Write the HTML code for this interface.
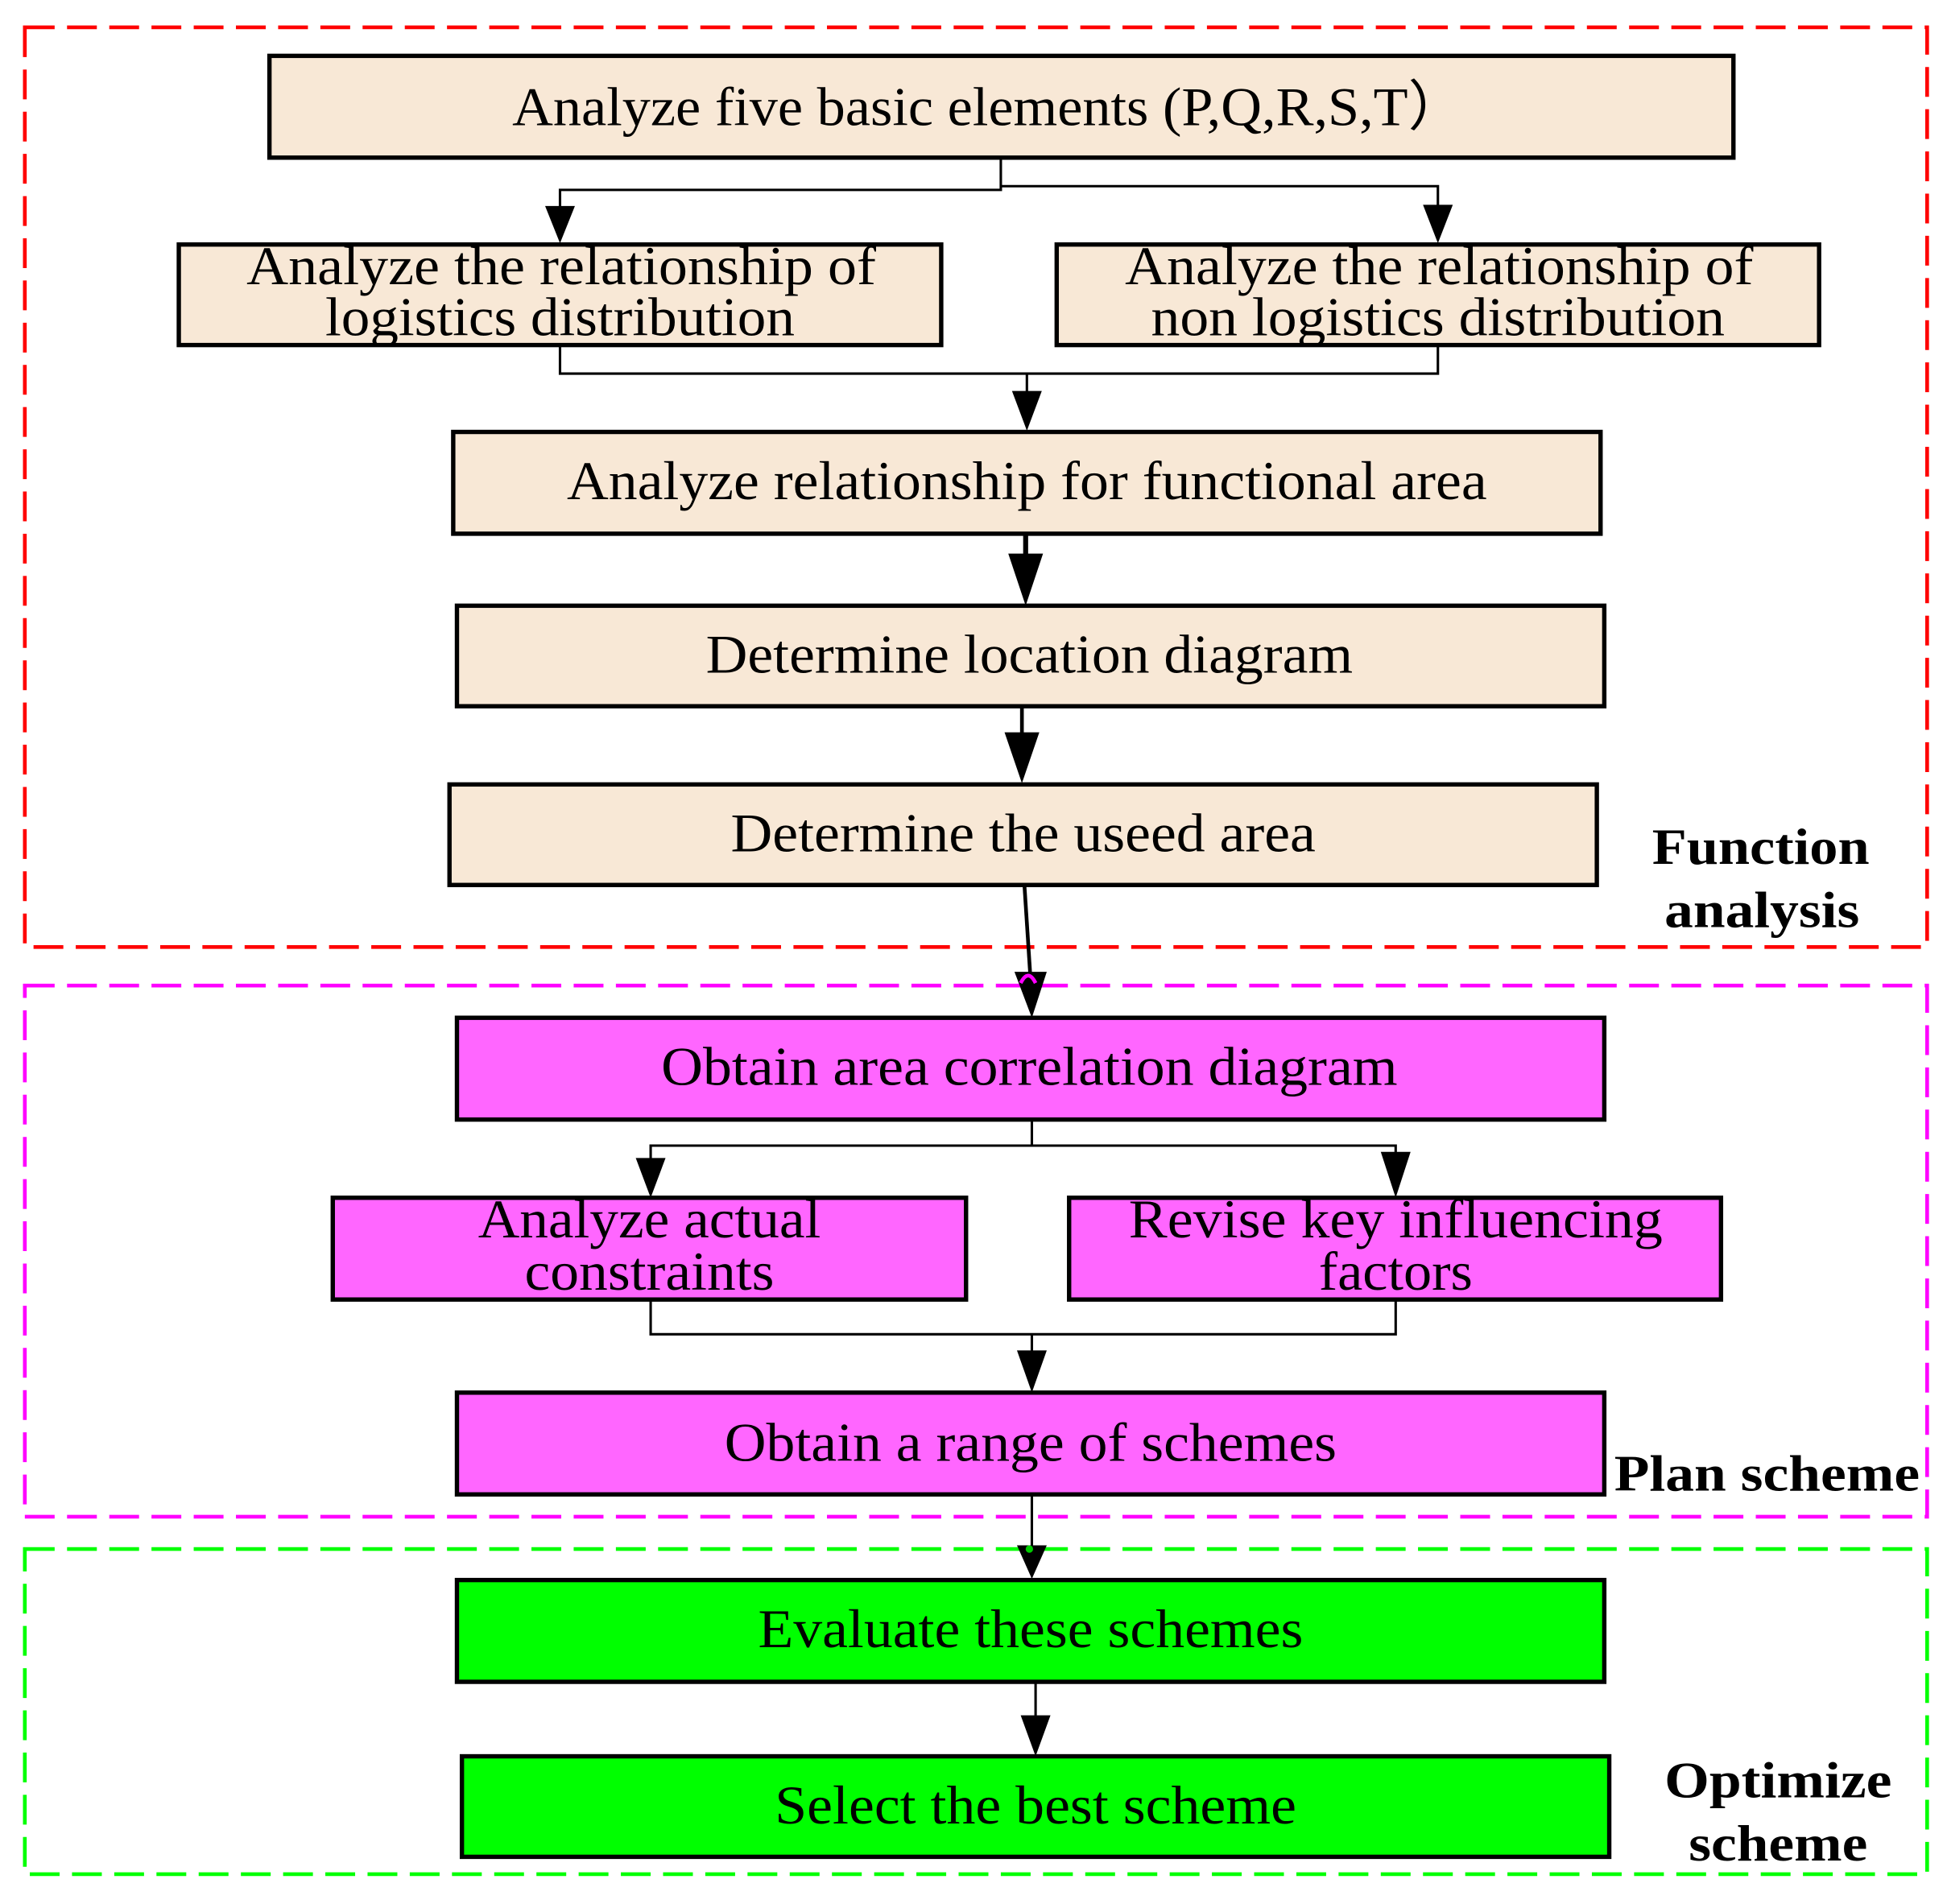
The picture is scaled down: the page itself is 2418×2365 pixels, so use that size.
<!DOCTYPE html>
<html><head><meta charset="utf-8"><style>
html,body{margin:0;padding:0;background:#fff}
svg{display:block}
text{font-family:"Liberation Serif",serif;font-size:44px;fill:#000;text-anchor:middle}
.b{font-weight:bold;font-size:41px}
</style></head><body>
<svg width="2418" height="2365" viewBox="0 0 1568 1534" preserveAspectRatio="none" xmlns="http://www.w3.org/2000/svg">
<!-- dashed groups -->
<rect x="20" y="22" width="1532" height="741" fill="none" stroke="#FF0000" stroke-width="3" stroke-dasharray="24,10"/>
<rect x="20" y="794" width="1532" height="428" fill="none" stroke="#FF00FF" stroke-width="3" stroke-dasharray="24,10"/>
<rect x="20" y="1248" width="1532" height="262" fill="none" stroke="#00FF00" stroke-width="3" stroke-dasharray="24,10"/>

<g fill="#000" stroke="none">
<path d="M439,166 L463,166 L451,196 Z"/>
<path d="M1146,165 L1170,165 L1158,196 Z"/>
<path d="M815,315 L839,315 L827,347 Z"/>
<path d="M812,446 L840,446 L826,488 Z"/>
<path d="M809,590 L837,590 L823,631 Z"/>
<path d="M817,783 L843,783 L831,820 Z"/>
<path d="M512,933 L536,933 L524,965 Z"/>
<path d="M1112,928 L1136,928 L1124,965 Z"/>
<path d="M819,1088 L843,1088 L831,1122 Z"/>
<path d="M819,1245 L843,1245 L831,1272 Z"/>
<path d="M822,1382 L846,1382 L834,1415 Z"/>
</g>
<g fill="none" stroke="#000" stroke-width="2">
<path d="M806,127 V153 H451 V170"/>
<path d="M806,150 H1158 V170"/>
<path d="M451,278 V301 H1158 V278"/>
<path d="M827,301 V320"/>
<path d="M826,430 V450" stroke-width="4"/>
<path d="M823,569 V595" stroke-width="3"/>
<path d="M825,713 L830,790" stroke-width="3"/>
<path d="M831,902 V923"/>
<path d="M524,940 V923 H1124 V935"/>
<path d="M524,1047 V1075 H1124 V1047"/>
<path d="M831,1075 V1092"/>
<path d="M831,1204 V1250"/>
<path d="M834,1355 V1386"/>
</g>
<path d="M822,792 Q828,780 834,792" fill="none" stroke="#FF00FF" stroke-width="3"/>
<circle cx="829" cy="1248" r="3" fill="#00cc00"/>

<g stroke="#000" stroke-width="3.5">
<rect x="217" y="45" width="1179" height="82" fill="#F8E8D6"/>
<rect x="144" y="197" width="614" height="81" fill="#F8E8D6"/>
<rect x="851" y="197" width="614" height="81" fill="#F8E8D6"/>
<rect x="365" y="348" width="924" height="82" fill="#F8E8D6"/>
<rect x="368" y="488" width="924" height="81" fill="#F8E8D6"/>
<rect x="362" y="632" width="924" height="81" fill="#F8E8D6"/>
<rect x="368" y="820" width="924" height="82" fill="#FF66FF"/>
<rect x="268" y="965" width="510" height="82" fill="#FF66FF"/>
<rect x="861" y="965" width="525" height="82" fill="#FF66FF"/>
<rect x="368" y="1122" width="924" height="82" fill="#FF66FF"/>
<rect x="368" y="1273" width="924" height="82" fill="#00FF00"/>
<rect x="372" y="1415" width="924" height="81" fill="#00FF00"/>
</g>

<g lengthAdjust="spacingAndGlyphs">
<text x="796" y="101" textLength="767" lengthAdjust="spacingAndGlyphs">Analyze five basic elements (P,Q,R,S,T）</text>
<text x="452" y="229" textLength="507" lengthAdjust="spacingAndGlyphs">Analyze the relationship of</text>
<text x="451" y="270" textLength="378" lengthAdjust="spacingAndGlyphs">logistics distribution</text>
<text x="1159" y="229" textLength="506" lengthAdjust="spacingAndGlyphs">Analyze the relationship of</text>
<text x="1158" y="270" textLength="462" lengthAdjust="spacingAndGlyphs">non logistics distribution</text>
<text x="827" y="402" textLength="741" lengthAdjust="spacingAndGlyphs">Analyze relationship for functional area</text>
<text x="829" y="542" textLength="521" lengthAdjust="spacingAndGlyphs">Determine location diagram</text>
<text x="824" y="686" textLength="471" lengthAdjust="spacingAndGlyphs">Determine the useed area</text>
<text class="b" x="1418" y="696" textLength="175" lengthAdjust="spacingAndGlyphs">Function</text>
<text class="b" x="1419" y="747" textLength="157" lengthAdjust="spacingAndGlyphs">analysis</text>
<text x="829" y="874" textLength="593" lengthAdjust="spacingAndGlyphs">Obtain area correlation diagram</text>
<text x="523" y="997" textLength="276" lengthAdjust="spacingAndGlyphs">Analyze actual</text>
<text x="523" y="1039" textLength="201" lengthAdjust="spacingAndGlyphs">constraints</text>
<text x="1124" y="997" textLength="430" lengthAdjust="spacingAndGlyphs">Revise key influencing</text>
<text x="1124" y="1039" textLength="124" lengthAdjust="spacingAndGlyphs">factors</text>
<text x="830" y="1177" textLength="493" lengthAdjust="spacingAndGlyphs">Obtain a range of schemes</text>
<text class="b" x="1423" y="1201" textLength="246" lengthAdjust="spacingAndGlyphs">Plan scheme</text>
<text x="830" y="1327" textLength="439" lengthAdjust="spacingAndGlyphs">Evaluate these schemes</text>
<text x="834" y="1469" textLength="420" lengthAdjust="spacingAndGlyphs">Select the best scheme</text>
<text class="b" x="1432" y="1448" textLength="183" lengthAdjust="spacingAndGlyphs">Optimize</text>
<text class="b" x="1432" y="1499" textLength="144" lengthAdjust="spacingAndGlyphs">scheme</text>
</g>
</svg>
</body></html>
